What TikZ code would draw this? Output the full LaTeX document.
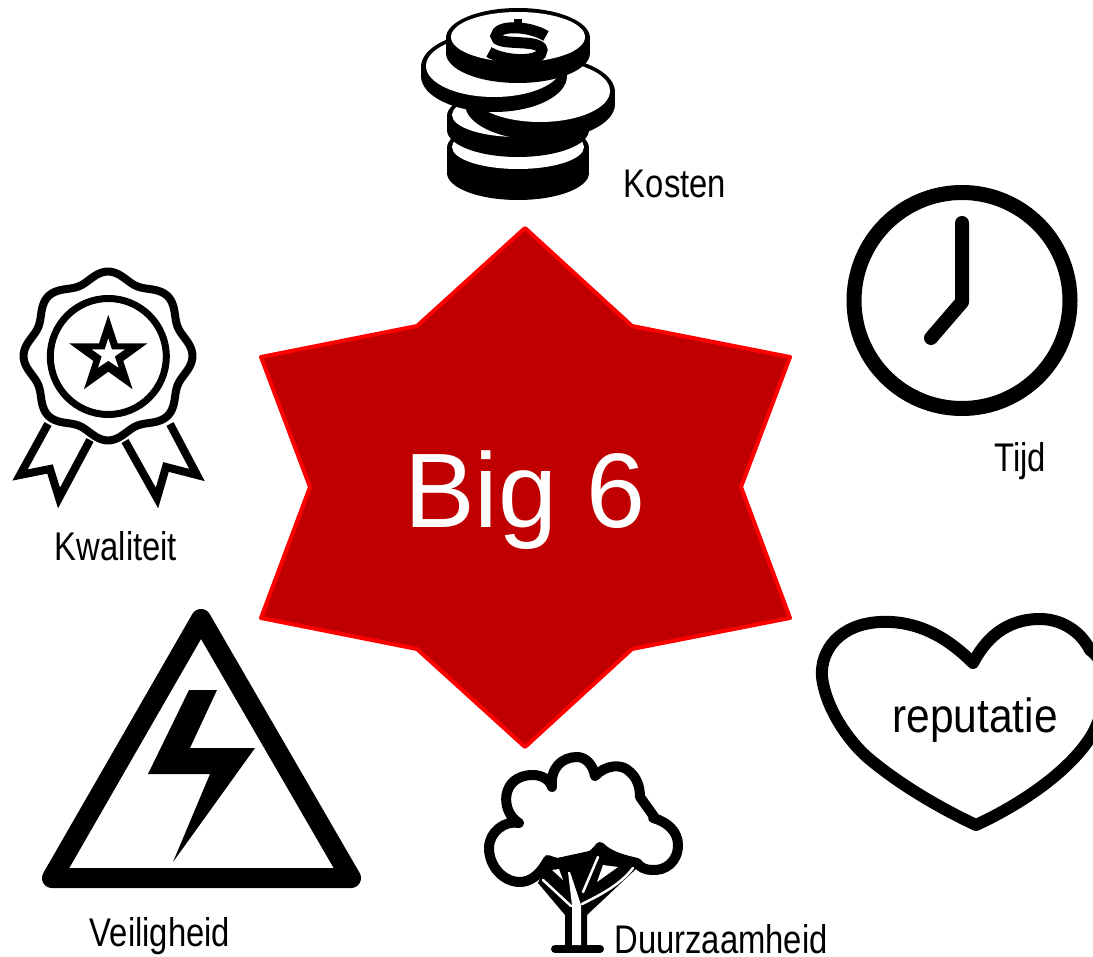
\documentclass[tikz,border=0pt]{standalone}
\usepackage{fontspec}
\setmainfont{Liberation Sans}
\definecolor{starfill}{HTML}{C00000}
\definecolor{starline}{HTML}{FF0000}
\tikzset{
  lab/.style={inner sep=0pt,anchor=base,font=\fontsize{40}{40}\selectfont,xscale=.82,transform shape,text=black},
  icon/.style={draw=black,line width=8pt,line join=round,line cap=round},
  slit/.style={draw=white,line width=2.5pt,line cap=round}
}
\newcommand{\coinshape}[5]{% cx cy rx ry thick
  \fill[black] (#1,#2+#5) ellipse [x radius=#3,y radius=#4];
  \fill[black] (#1-#3,#2) rectangle (#1+#3,#2+#5);
  \fill[black] (#1,#2) ellipse [x radius=#3,y radius=#4];
  \fill[white] (#1,#2-1) ellipse [x radius=#3-5,y radius=#4-5];
}
\begin{document}
\begin{tikzpicture}[x=1pt,y=-1pt]
\useasboundingbox (0,0) rectangle (1093,957);
% star
\draw[fill=starfill,draw=starline,line width=4pt,line join=round]
 (525,228)--(632,326)--(790,357)--(741,487)--(790,618)--(632,649)--(525,747)--(417,649)--(261,618)--(310,487)--(261,357)--(417,326)--cycle;
\node[inner sep=0pt,anchor=base,text=white,font=\fontsize{106}{106}\selectfont] (big) at (525,527) {Big 6};
% coins
\coinshape{518}{148}{71}{27}{25}
\coinshape{518}{116}{71}{27}{14}
\coinshape{540}{92}{75}{36}{12}
\coinshape{494}{67}{73}{36}{9}
\coinshape{518}{38}{72}{30}{15}
\draw[black,line width=11pt] (546,36) .. controls (530,26) and (497,24) .. (496,36)
  .. controls (495,47) and (541,38) .. (542,50) .. controls (543,63) and (505,62) .. (489,52);
\draw[black,line width=8pt] (518,19)--(518,28) (518,60)--(518,69);
\node[lab] (kosten) at (675,198) {Kosten};
% clock
\draw[black,line width=15pt] (962,300.5) circle [radius=108];
\draw[black,line width=14pt,line cap=round,line join=round] (962,223)--(962,302)--(931,338);
\node[lab] (tijd) at (1020,472) {Tijd};
% heart
\draw[icon,line width=12pt] (973,663) .. controls (950,640) and (920,620) .. (880,622)
  .. controls (840,624) and (820,650) .. (822,677) .. controls (826,710) and (850,742) .. (867,757)
  .. controls (900,785) and (940,808) .. (976,825) .. controls (1030,800) and (1075,765) .. (1093,733)
  .. controls (1115,690) and (1105,660) .. (1090,650) .. controls (1080,630) and (1060,619) .. (1040,619)
  .. controls (1005,619) and (985,640) .. (973,663) -- cycle;
\node[lab,font=\fontsize{48}{48}\selectfont,xscale=1.08] (rep) at (975,732) {reputatie};
% rosette
\draw[icon,line width=8pt] plot[smooth cycle,samples=96,domain=0:356.25] ({108+(80+4.5*cos(8*\x))*sin(\x)},{356-(80+4.5*cos(8*\x))*cos(\x)});
\draw[black,line width=7pt] (108.3,356.5) circle [radius=58];
\fill[black,even odd rule]
 (108.3,315)--(117.6,343.3)--(147.5,343.3)--(123.3,360.9)--(132.6,389.2)--(108.3,371.7)--(84,389.2)--(93.3,360.9)--(69.1,343.3)--(99,343.3)--cycle
 (108.3,338)--(112,349.5)--(125,349.5)--(115,356.5)--(118.8,368)--(108.3,361)--(97.8,368)--(101.6,356.5)--(91.6,349.5)--(104.6,349.5)--cycle;
\draw[black,line width=8pt,line join=miter] (48,424)--(20,475)--(50,469)--(59,498)--(90,440);
\draw[black,line width=8pt,line join=miter] (170,424)--(197,475)--(166,467)--(157,498)--(125,441);
\node[lab] (kwal) at (116,560) {Kwaliteit};
% triangle
\draw[black,line width=20pt,line join=round] (201,619)--(52,878)--(351,878)--cycle;
\fill[black] (189,690)--(217,690)--(190,748)--(255,748)--(173,862)--(210,774)--(148,774)--cycle;
\node[lab] (veil) at (160,946) {Veiligheid};
% tree
\fill[black] (548,860)--(538,883)--(565,915)--(565,947)--(587,947)--(587,915)--(637,868)--(603,848)--cycle;
\draw[black,line width=8pt,line cap=round] (555,949)--(600,949);
\draw[black,line width=10pt,line cap=round,line join=round]
 (519,823) .. controls (500,812) and (500,775) .. (533,775) .. controls (542,775) and (550,780) .. (552,787)
 (552,787) .. controls (550,768) and (562,757) .. (577,757) .. controls (586,757) and (593,765) .. (595,776)
 (595,776) .. controls (605,765) and (622,763) .. (630,772) .. controls (637,778) and (640,787) .. (640,797) -- (655,818)
 (653,818) .. controls (668,822) and (678,832) .. (678,845) .. controls (678,862) and (665,871) .. (652,870) .. controls (645,870) and (640,867) .. (637,863)
 .. controls (625,860) and (610,857) .. (600,847)
 (600,847) .. controls (590,862) and (565,868) .. (548,860)
 (548,860) .. controls (540,875) and (530,882) .. (520,882) .. controls (503,882) and (489,866) .. (489,848) .. controls (489,832) and (505,820) .. (519,823);
\fill[white] (572,945)--(581,945)--(581,905)--(570,872)--(568,872)--(572,905)--cycle;
\draw[slit] (543,880)--(571,906);
\draw[slit] (582,904) .. controls (600,895) and (620,885) .. (633,868);
\draw[slit] (598,857)--(583,892);
\fill[white] (552,870)--(559,869)--(563,880)--cycle;
\fill[white] (603,865)--(618,867)--(597,882)--cycle;
\node[lab] (duur) at (721,953) {Duurzaamheid};
\end{tikzpicture}
\end{document}
